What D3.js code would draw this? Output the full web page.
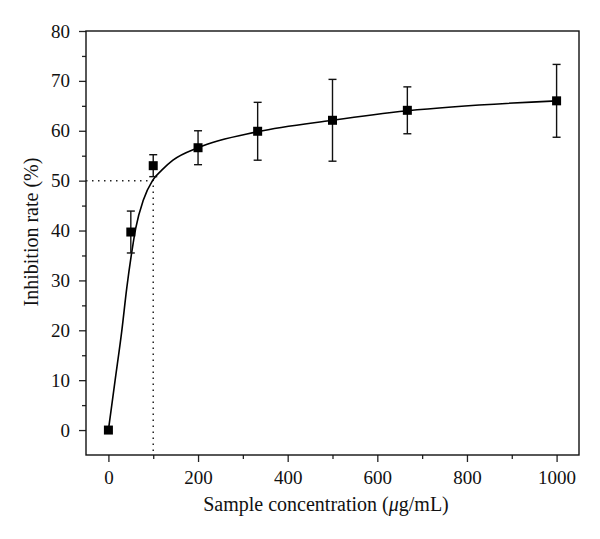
<!DOCTYPE html>
<html>
<head>
<meta charset="utf-8">
<script src="https://cdn.jsdelivr.net/npm/d3@7"></script>
<style>
  body { margin: 0; background: #fff; }
  svg text { font-family: "Liberation Serif", "DejaVu Serif", serif; fill: #111; }
</style>
</head>
<body>
<div id="chart"></div>
<script>
// measured points (mean +/- error)
var concentration = [0, 50, 100, 200, 333, 500, 667, 1000];
var inhibition = [0, 39.7, 53.0, 56.6, 59.9, 62.1, 64.1, 66.0];
var errors = [0, 4.2, 2.2, 3.4, 5.8, 8.2, 4.7, 7.3];

// fitted curve
var fitX = [0, 15, 30, 41, 51, 61, 78, 99, 119, 144, 200, 333, 500, 667, 1000];
var fitY = [0, 10, 20, 28.5, 35, 40.5, 46.1, 50.1, 52.1, 54.1, 56.6, 59.8, 62.1, 64.0, 66.0];

var xTicks = [0, 200, 400, 600, 800, 1000];
var yTicks = [0, 10, 20, 30, 40, 50, 60, 70, 80];
var ic50 = {x: 100, y: 50};

var W = 600, H = 539;
var plotLeft = 86, plotRight = 579, plotTop = 31, plotBottom = 455;

var svg = d3.select("#chart").append("svg")
    .attr("width", W)
    .attr("height", H);

var x = d3.scaleLinear().domain([-50, 1050]).range([plotLeft, plotRight]);
var y = d3.scaleLinear().domain([-5, 80]).range([plotBottom, plotTop]);

// minor ticks first
var xMinor = d3.range(100, 1000, 200);
var yMinor = d3.range(5, 80, 10);

svg.append("g")
    .attr("transform", "translate(0," + plotBottom + ")")
    .call(d3.axisBottom(x).tickValues(xMinor).tickSize(4).tickSizeOuter(0).tickFormat(""));

svg.append("g")
    .attr("transform", "translate(" + plotLeft + ",0)")
    .call(d3.axisLeft(y).tickValues(yMinor).tickSize(4).tickSizeOuter(0).tickFormat(""));

// major axes
var xAxis = svg.append("g")
    .attr("transform", "translate(0," + plotBottom + ")")
    .call(d3.axisBottom(x).tickValues(xTicks).tickSize(7).tickSizeOuter(0)
        .tickPadding(9).tickFormat(d3.format("d")));

var yAxis = svg.append("g")
    .attr("transform", "translate(" + plotLeft + ",0)")
    .call(d3.axisLeft(y).tickValues(yTicks).tickSize(7).tickSizeOuter(0)
        .tickPadding(9).tickFormat(d3.format("d")));

svg.selectAll(".domain").remove();
svg.selectAll(".tick line").attr("stroke", "#222").attr("stroke-width", 1.3);
svg.selectAll(".tick text")
    .attr("font-size", 19)
    .attr("font-family", "Liberation Serif")
    .attr("fill", "#111");

// frame
svg.append("rect")
    .attr("x", plotLeft)
    .attr("y", plotTop)
    .attr("width", plotRight - plotLeft)
    .attr("height", plotBottom - plotTop)
    .attr("fill", "none")
    .attr("stroke", "#111")
    .attr("stroke-width", 1.4);

// dotted IC50 guides
svg.append("path")
    .attr("d", "M" + x(-50) + "," + y(ic50.y) + "H" + x(ic50.x) + "V" + y(-5))
    .attr("fill", "none")
    .attr("stroke", "#222")
    .attr("stroke-width", 1.5)
    .attr("stroke-dasharray", "1.5,4.5");

// fitted curve
var fit = fitX.map(function(d, i){ return [d, fitY[i]]; });
var line = d3.line()
    .x(function(d){ return x(d[0]); })
    .y(function(d){ return y(d[1]); })
    .curve(d3.curveMonotoneX);

svg.append("path")
    .datum(fit)
    .attr("d", line)
    .attr("fill", "none")
    .attr("stroke", "#000")
    .attr("stroke-width", 1.6);

// error bars
var pts = concentration.map(function(d, i){
    return {c: d, v: inhibition[i], e: errors[i]};
});

var bars = svg.append("g").attr("stroke", "#111").attr("stroke-width", 1.4);
pts.filter(function(d){ return d.e > 0; }).forEach(function(d){
    var cx = x(d.c), y0 = y(d.v - d.e), y1 = y(d.v + d.e);
    bars.append("line").attr("x1", cx).attr("x2", cx).attr("y1", y0).attr("y2", y1);
    bars.append("line").attr("x1", cx - 4).attr("x2", cx + 4).attr("y1", y0).attr("y2", y0);
    bars.append("line").attr("x1", cx - 4).attr("x2", cx + 4).attr("y1", y1).attr("y2", y1);
});

// square markers
var s = 9;
svg.selectAll("rect.pt")
    .data(pts)
    .enter()
    .append("rect")
    .attr("class", "pt")
    .attr("x", function(d){ return x(d.c) - s / 2; })
    .attr("y", function(d){ return y(d.v) - s / 2; })
    .attr("width", s)
    .attr("height", s)
    .attr("fill", "#000");

// axis titles
var xt = svg.append("text")
    .attr("x", 326)
    .attr("y", 511)
    .attr("text-anchor", "middle")
    .attr("font-size", 20);
xt.append("tspan").text("Sample concentration (");
xt.append("tspan").attr("font-style", "italic").text("\u03bc");
xt.append("tspan").text("g/mL)");

svg.append("text")
    .attr("transform", "translate(38,232) rotate(-90)")
    .attr("text-anchor", "middle")
    .attr("font-size", 20)
    .text("Inhibition rate (%)");
</script>
</body>
</html>
